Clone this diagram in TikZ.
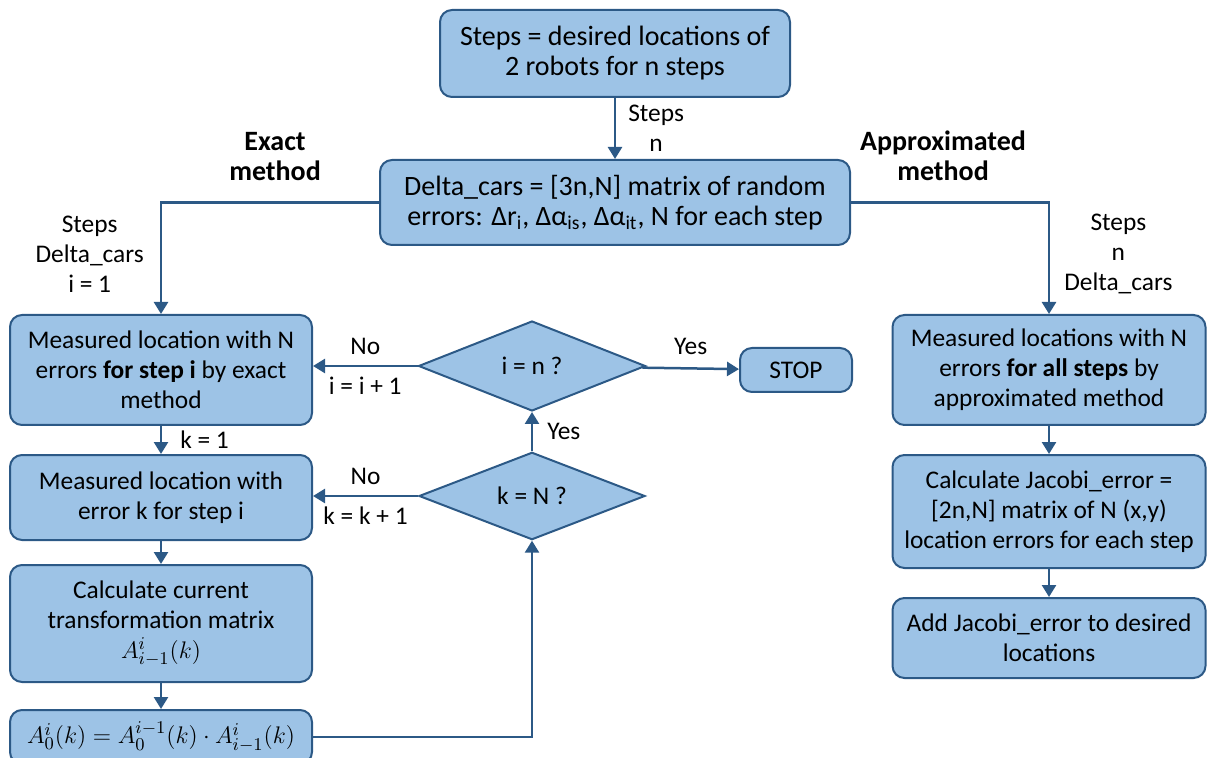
\documentclass[tikz,border=0pt]{standalone}
\usepackage{fontspec}
\setmainfont{Carlito}
\usetikzlibrary{shapes.geometric,arrows.meta}
\definecolor{flowfill}{HTML}{9DC3E6}
\definecolor{flowline}{HTML}{2C5986}
\tikzset{
  flow box/.style={
    draw=flowline, fill=flowfill, line width=1pt,
    rounded corners=6pt, align=center, inner sep=0pt
  },
  flow test/.style={
    diamond, draw=flowline, fill=flowfill, line width=1pt,
    align=center, inner sep=0pt
  },
  flow arrow/.style={
    draw=flowline, line width=1.25pt, -{Triangle[length=6pt,width=7pt]}
  },
  flow note/.style={align=center, inner sep=0pt},
  big text/.style={font=\fontsize{14}{15}\selectfont},
  title text/.style={font=\fontsize{14}{15}\selectfont\bfseries}
}
\newcommand\flowmath[1]{{\fontsize{13.2}{15}\selectfont$#1$}}
\begin{document}
\begin{tikzpicture}[x=0.5pt, y=-0.5pt, font=\fontsize{12.7}{15}\selectfont]
\useasboundingbox (0,0) rectangle (1208,758);
\node[flow box, big text, minimum width=175pt, minimum height=43.5pt] (steps) at (615,53.5)
  {Steps = desired locations of\\2 robots for n steps};
\node[flow box, big text, minimum width=235pt, minimum height=42.5pt] (delta) at (615,202.5)
  {Delta\_cars = [3n,N] matrix of random\\errors: Δr\textsubscript{i}, Δα\textsubscript{is}, Δα\textsubscript{it}, N for each step};
\node[flow note, title text] (exact) at (275,157) {Exact\\method};
\node[flow note, title text] (approxtitle) at (943,156) {Approximated\\method};
% exact method
\node[flow box, minimum width=151pt, minimum height=55pt] (meas) at (161,370)
  {Measured location with N\\errors \textbf{for step i} by exact\\method};
\node[flow box, minimum width=151pt, minimum height=42.5pt] (meask) at (161,497.5)
  {Measured location with\\error k for step i};
\node[flow box, minimum width=151pt, minimum height=58.5pt] (curr) at (161,623.5)
  {Calculate current\\transformation matrix\\\flowmath{A^{i}_{i-1}(k)}};
\node[flow box, minimum width=151pt, minimum height=27pt] (prod) at (161,737)
  {\flowmath{A^{i}_{0}(k)=A^{i-1}_{0}(k)\cdot A^{i}_{i-1}(k)}};
\node[flow test, minimum width=113.5pt, minimum height=45pt] (testi) at (532,366) {i = n ?};
\node[flow test, minimum width=113pt, minimum height=42pt] (testk) at (532,496) {k = N ?};
\node[flow box, minimum width=56pt, minimum height=22pt] (stop) at (796,370) {STOP};
% approximated method
\node[flow box, minimum width=156.5pt, minimum height=55pt] (approx) at (1049,370)
  {Measured locations with N\\errors \textbf{for all steps} by\\approximated method};
\node[flow box, minimum width=156.5pt, minimum height=56.5pt] (jacobi) at (1049,511.5)
  {Calculate Jacobi\_error =\\{[2n,N]} matrix of N (x,y)\\location errors for each step};
\node[flow box, minimum width=156.5pt, minimum height=40pt] (addjac) at (1049,638)
  {Add Jacobi\_error to desired\\locations};

\draw[flow arrow] (steps) -- node[flow note, right=6pt] (stepsin) {Steps\\n} (delta);
\draw[flow arrow] (delta.west) -| node[flow note, pos=0.73, left=8pt] (exactin) {Steps\\Delta\_cars\\i = 1} (meas.north);
\draw[flow arrow] (delta.east) -| node[flow note, pos=0.73, right=7pt] (approxin) {Steps\\n\\Delta\_cars} (approx.north);
\draw[flow arrow] (meas) -- node[flow note, right=9pt] (kone) {k = 1} (meask);
\draw[flow arrow] (meask) -- (curr);
\draw[flow arrow] (curr) -- (prod);
\draw[flow arrow] (prod.east) -| (testk.south);
\draw[flow arrow] (testk) -- node[flow note, right=7pt] (kyes) {Yes} (testi);
\draw[flow arrow] (testk.west) -- node[flow note, above=5pt] (kno) {No}
  node[flow note, below=5pt] (knext) {k = k + 1} (testk.west -| meask.east);
\draw[flow arrow] (testi.west) -- node[flow note, above=5pt] (ino) {No}
  node[flow note, below=5pt] (inext) {i = i + 1} (testi.west -| meas.east);
\draw[flow arrow] (testi) -- node[flow note, above=6pt] (iyes) {Yes} (stop);
\draw[flow arrow] (approx) -- (jacobi);
\draw[flow arrow] (jacobi) -- (addjac);
\end{tikzpicture}
\end{document}
